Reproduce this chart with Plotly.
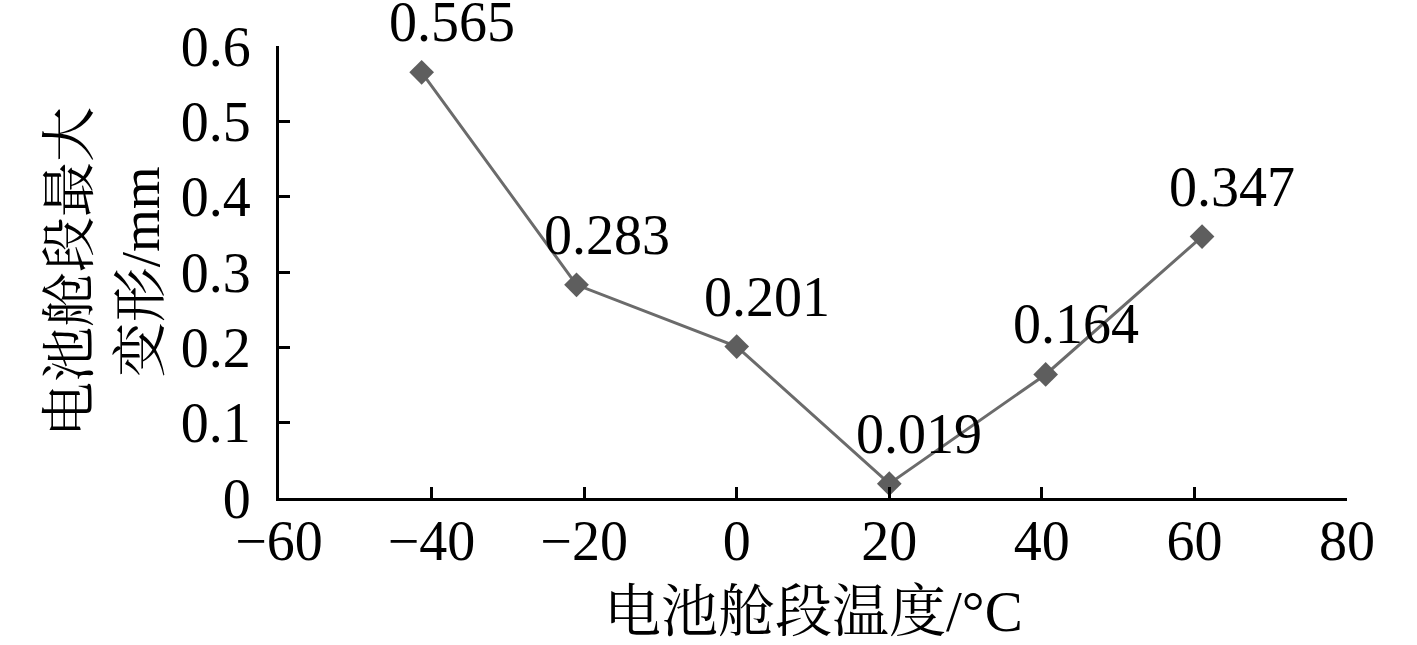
import plotly.graph_objects as go

# temperature of battery section (°C) vs max deformation (mm)
temps = [-41.3, -21, 0, 20, 40.5, 61]
deform = [0.565, 0.283, 0.201, 0.019, 0.164, 0.347]
labels = ["0.565", "0.283", "0.201", "0.019", "0.164", "0.347"]

x_ticks = [-60, -40, -20, 0, 20, 40, 60, 80]
y_ticks = [0, 0.1, 0.2, 0.3, 0.4, 0.5, 0.6]

font_fam = "Liberation Serif, Noto Serif CJK SC, Noto Sans CJK SC, serif"
black = "#000000"

fig = go.Figure()

# data line with diamond markers
fig.add_trace(go.Scatter(x=temps, y=deform, mode="lines+markers",
                         line=dict(color="#6b6b6b", width=3),
                         marker=dict(symbol="diamond", size=19, color="#5e5e5e"),
                         showlegend=False, cliponaxis=False))

# value labels
for xv, yv, t in zip(temps, deform, labels):
    fig.add_annotation(x=xv, y=yv, text=t, showarrow=False,
                       xshift=30, yshift=50, yanchor="middle",
                       font=dict(size=56, color=black, family=font_fam))

# axis titles as annotations (y title in two rotated lines)
fig.add_annotation(xref="paper", yref="paper", x=-0.163, y=0.5,
                   text="电池舱段最大<br>变形/mm", showarrow=False,
                   textangle=-90, xanchor="center", yanchor="middle",
                   font=dict(size=55, color=black, family=font_fam))
fig.add_annotation(xref="paper", yref="paper", x=0.5, y=-0.25,
                   text="电池舱段温度/°C", showarrow=False,
                   xanchor="center", yanchor="middle",
                   font=dict(size=57, color=black, family=font_fam))

fig.update_layout(
    width=1417, height=645,
    margin=dict(l=279, r=70, t=46, b=147),
    paper_bgcolor="white", plot_bgcolor="white",
    font=dict(family=font_fam, size=56, color=black),
    xaxis=dict(range=[-60, 80], tickvals=x_ticks, ticks="inside", ticklen=11,
               tickwidth=3, tickcolor=black, showline=True, linecolor=black,
               linewidth=3, showgrid=False, zeroline=False, automargin=False,
               tickfont=dict(size=56), ticklabelstandoff=-8),
    yaxis=dict(range=[0, 0.6], tickvals=y_ticks, ticks="inside", ticklen=11,
               tickwidth=3, tickcolor=black, showline=True, linecolor=black,
               linewidth=3, showgrid=False, zeroline=False, automargin=False,
               tickfont=dict(size=56), ticklabelstandoff=14),
)

# drop the default page margin so the figure sits at the window corner
fig.write_html("out.html", config={"displayModeBar": False},
               post_script="document.body.style.margin='0';")
